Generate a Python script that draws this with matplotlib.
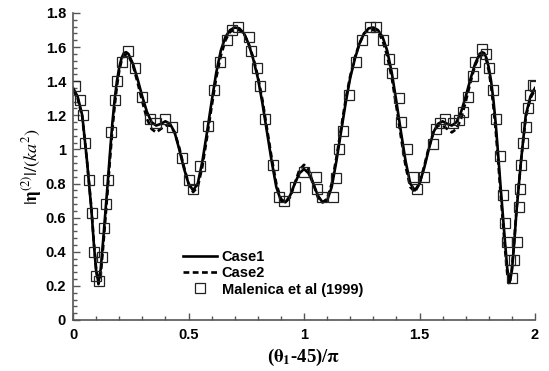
import matplotlib
matplotlib.use("Agg")
import matplotlib.pyplot as plt
from matplotlib.ticker import MultipleLocator, FuncFormatter

plt.rcParams['mathtext.fontset'] = 'stix'

# theta grid for both computed cases
x_case = [0.00, 0.02, 0.04, 0.06, 0.08, 0.09, 0.10, 0.11, 0.12, 0.13, 0.14, 0.15,
          0.16, 0.17, 0.18, 0.19, 0.20, 0.21, 0.22, 0.23, 0.24, 0.26, 0.28, 0.30,
          0.32, 0.34, 0.36, 0.38, 0.40, 0.42, 0.44, 0.46, 0.48, 0.50, 0.52, 0.54,
          0.56, 0.58, 0.60, 0.62, 0.64, 0.66, 0.68, 0.70, 0.72, 0.74, 0.76, 0.78,
          0.80, 0.82, 0.84, 0.86, 0.88, 0.90, 0.92, 0.94, 0.96, 0.98, 1.00,
          1.02, 1.04, 1.06, 1.08, 1.10, 1.12, 1.14, 1.16, 1.18, 1.20, 1.22, 1.24,
          1.26, 1.28, 1.30, 1.32, 1.34, 1.36, 1.38, 1.40, 1.42, 1.44, 1.46, 1.48,
          1.50, 1.52, 1.54, 1.56, 1.58, 1.60, 1.62, 1.64, 1.66, 1.68, 1.70, 1.72,
          1.74, 1.76, 1.77, 1.78, 1.79, 1.80, 1.81, 1.82, 1.83, 1.84, 1.85, 1.86,
          1.87, 1.88, 1.89, 1.90, 1.91, 1.92, 1.94, 1.96, 1.98, 2.00]

case1 = [1.36, 1.31, 1.20, 0.94, 0.64, 0.45, 0.29, 0.22, 0.30, 0.46, 0.63, 0.80,
         0.98, 1.15, 1.29, 1.40, 1.48, 1.535, 1.565, 1.57, 1.56, 1.50, 1.41, 1.31,
         1.22, 1.16, 1.14, 1.15, 1.165, 1.15, 1.10, 1.00, 0.89, 0.80, 0.76, 0.80,
         0.93, 1.10, 1.28, 1.45, 1.58, 1.66, 1.70, 1.715, 1.71, 1.68, 1.62, 1.53,
         1.42, 1.27, 1.10, 0.93, 0.78, 0.70, 0.69, 0.73, 0.80, 0.86, 0.885,
         0.86, 0.80, 0.73, 0.69, 0.70, 0.78, 0.93, 1.10, 1.27, 1.42, 1.53, 1.62,
         1.68, 1.71, 1.715, 1.70, 1.66, 1.58, 1.45, 1.28, 1.10, 0.93, 0.80, 0.76,
         0.80, 0.89, 1.00, 1.10, 1.15, 1.165, 1.15, 1.14, 1.16, 1.22, 1.31, 1.41,
         1.50, 1.56, 1.57, 1.565, 1.535, 1.48, 1.40, 1.29, 1.15, 0.98, 0.80, 0.63,
         0.46, 0.30, 0.22, 0.29, 0.45, 0.64, 0.94, 1.20, 1.31, 1.36]

case2 = [1.35, 1.30, 1.19, 0.94, 0.65, 0.46, 0.30, 0.21, 0.27, 0.42, 0.59, 0.76,
         0.94, 1.11, 1.25, 1.37, 1.46, 1.52, 1.55, 1.555, 1.55, 1.49, 1.39, 1.28,
         1.18, 1.12, 1.10, 1.12, 1.14, 1.14, 1.10, 1.01, 0.90, 0.80, 0.75, 0.78,
         0.90, 1.07, 1.25, 1.42, 1.55, 1.64, 1.69, 1.70, 1.70, 1.68, 1.62, 1.54,
         1.43, 1.29, 1.12, 0.95, 0.80, 0.71, 0.69, 0.72, 0.80, 0.88, 0.91,
         0.88, 0.80, 0.72, 0.69, 0.71, 0.80, 0.95, 1.12, 1.29, 1.43, 1.54, 1.62,
         1.68, 1.70, 1.70, 1.69, 1.64, 1.55, 1.42, 1.25, 1.07, 0.90, 0.78, 0.75,
         0.80, 0.90, 1.01, 1.10, 1.14, 1.14, 1.12, 1.10, 1.12, 1.18, 1.28, 1.39,
         1.49, 1.55, 1.555, 1.55, 1.52, 1.46, 1.37, 1.25, 1.11, 0.94, 0.76, 0.59,
         0.42, 0.27, 0.21, 0.30, 0.46, 0.65, 0.94, 1.19, 1.30, 1.35]

# Malenica et al (1999)
x_mal = [0.009, 0.03, 0.043, 0.052, 0.069, 0.082, 0.091, 0.10, 0.113, 0.125, 0.134,
         0.143, 0.152, 0.164, 0.182, 0.19, 0.21, 0.24, 0.27, 0.30, 0.333, 0.36,
         0.40, 0.43, 0.47, 0.50, 0.52, 0.55, 0.585, 0.61, 0.636, 0.665, 0.69,
         0.715, 0.76, 0.77, 0.795, 0.81, 0.83, 0.866, 0.89, 0.915, 0.96, 1.00,
         1.05, 1.055, 1.08, 1.125, 1.14, 1.15, 1.17, 1.195, 1.225, 1.25, 1.285,
         1.31, 1.34, 1.37, 1.38, 1.41, 1.42, 1.445, 1.47, 1.49, 1.52, 1.56, 1.57,
         1.59, 1.61, 1.645, 1.67, 1.69, 1.71, 1.73, 1.74, 1.77, 1.79, 1.80, 1.82,
         1.83, 1.85, 1.86, 1.87, 1.88, 1.89, 1.90, 1.91, 1.92, 1.93, 1.935, 1.94,
         1.95, 1.96, 1.97, 1.98, 1.99, 2.00]
y_mal = [1.37, 1.29, 1.20, 1.04, 0.82, 0.63, 0.40, 0.26, 0.23, 0.37, 0.54,
         0.68, 0.82, 1.10, 1.29, 1.40, 1.51, 1.58, 1.48, 1.31, 1.18, 1.155,
         1.18, 1.13, 0.95, 0.82, 0.77, 0.90, 1.14, 1.35, 1.51, 1.64, 1.70,
         1.72, 1.66, 1.58, 1.48, 1.37, 1.18, 0.91, 0.72, 0.70, 0.78, 0.87,
         0.84, 0.77, 0.72, 0.72, 0.83, 1.00, 1.11, 1.32, 1.51, 1.64, 1.72,
         1.72, 1.64, 1.53, 1.45, 1.30, 1.16, 1.00, 0.84, 0.77, 0.84, 1.03, 1.12,
         1.155, 1.18, 1.155, 1.17, 1.22, 1.31, 1.43, 1.51, 1.59, 1.56, 1.48, 1.35,
         1.18, 0.96, 0.73, 0.57, 0.46, 0.35, 0.245, 0.35, 0.46, 0.66, 0.77, 0.91,
         1.04, 1.13, 1.24, 1.32, 1.38, 1.37]

fig = plt.figure(figsize=(5.49, 3.71), dpi=100)
ax = fig.add_axes([0.133, 0.1375, 0.8415, 0.8275])

ax.plot(x_case, case1, color='black', lw=1.9, label='Case1')
ax.plot(x_case, case2, color='black', lw=1.9, ls=(0, (2.2, 1.3)), label='Case2')
ax.plot(x_mal, y_mal, ls='none', marker='s', ms=6.5, mfc='none', mec='#222222',
        mew=0.9, label='Malenica et al (1999)')

ax.set_xlim(0, 2)
ax.set_ylim(0, 1.8)
ax.xaxis.set_major_locator(MultipleLocator(0.5))
ax.xaxis.set_minor_locator(MultipleLocator(0.1))
ax.yaxis.set_major_locator(MultipleLocator(0.2))
ax.yaxis.set_minor_locator(MultipleLocator(0.04))
fmt = FuncFormatter(lambda v, p: '%g' % round(v, 2))
ax.xaxis.set_major_formatter(fmt)
ax.yaxis.set_major_formatter(fmt)

for side in ['top', 'right']:
    ax.spines[side].set_visible(False)
for side in ['left', 'bottom']:
    ax.spines[side].set_color('#555555')
    ax.spines[side].set_linewidth(1.2)

ax.tick_params(which='both', direction='in', color='#555555', width=1.0)
ax.tick_params(which='major', length=5)
ax.tick_params(which='minor', length=3)
ax.tick_params(axis='x', pad=6)
ax.tick_params(axis='y', pad=5)
for lab in ax.get_xticklabels() + ax.get_yticklabels():
    lab.set_fontfamily('Liberation Sans')
    lab.set_fontweight('bold')
    lab.set_fontsize(10.5)

ax.set_xlabel(r'($\mathbf{\theta_1}$-45)/$\mathbf{\pi}$', family='Liberation Serif',
              fontweight='bold', fontsize=13.5, labelpad=3)
ax.set_ylabel(r'$|\mathbf{\eta}^{(2)}|/(ka^2)$', fontsize=13, labelpad=1)

leg = ax.legend(loc='upper left', bbox_to_anchor=(0.21, 0.27), frameon=False,
                handlelength=2.3, handletextpad=0.35, labelspacing=0.15,
                prop={'family': 'Liberation Sans', 'weight': 'bold', 'size': 10.5})

fig.savefig('out.png', dpi=100)
